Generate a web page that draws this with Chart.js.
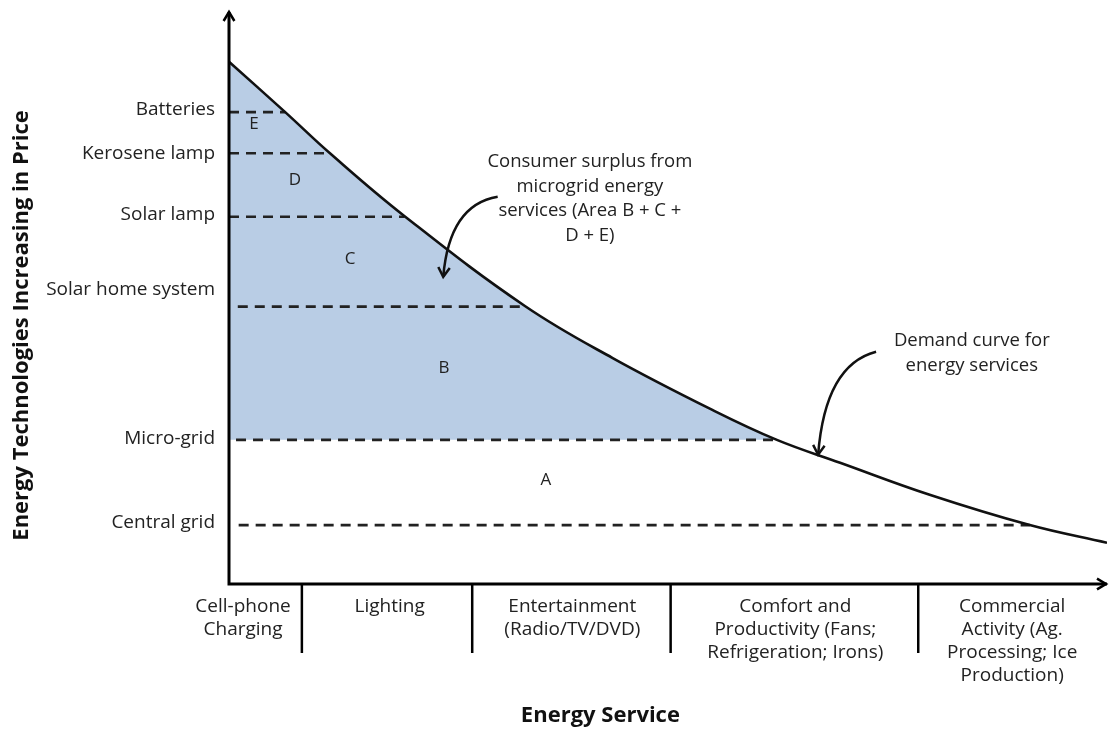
<!DOCTYPE html>
<html lang="en">
<head>
<meta charset="UTF-8">
<title>Demand curve for energy services</title>
<script src="https://cdn.jsdelivr.net/npm/chart.js"></script>
<style>
  html, body { margin: 0; padding: 0; background: #fff; }
  canvas { display: block; }
</style>
</head>
<body>
<canvas id="chart" width="1109" height="731"></canvas>
<script>
// demand curve (x = quantity of service, y = price)
const curveX = [0, 6.4, 11.5, 20.0, 33.7, 43.7, 55.1, 62.4, 69.6, 79.8, 91.2, 100];
const curveY = [91.3, 82.5, 75.3, 64.3, 48.6, 39.5, 30.4, 25.2, 21.2, 15.6, 10.3, 7.2];

// technologies and their price levels (dashed lines)
const techLabels = ['Batteries', 'Kerosene lamp', 'Solar lamp', 'Solar home system', 'Micro-grid', 'Central grid'];
const techPrices = [82.5, 75.3, 64.2, 48.5, 25.2, 10.3];
const dashStarts = [0, 0, 0, 1.0, 0.8, 1.1];
const dashEnds = [6.4, 11.5, 20.0, 33.7, 62.4, 91.2];
const techTickValues = [82.9, 75.3, 64.5, 51.4, 25.5, 10.8];

const microGridPrice = 25.2;

// energy services along the x axis
const serviceLabels = [
  ['Cell-phone', 'Charging'],
  ['Lighting'],
  ['Entertainment', '(Radio/TV/DVD)'],
  ['Comfort and', 'Productivity (Fans;', 'Refrigeration; Irons)'],
  ['Commercial', 'Activity (Ag.', 'Processing; Ice', 'Production)']
];
const serviceCenters = [1.6, 18.3, 39.1, 64.5, 89.2];
const serviceBounds = [8.3, 27.7, 50.3, 78.5];

// area letters
const areaLetters = ['E', 'D', 'C', 'B', 'A'];
const areaX = [2.85, 7.5, 13.8, 24.5, 36.1];
const areaY = [80.4, 70.6, 56.8, 37.8, 18.2];

// annotations
const notes = [
  { lines: ['Consumer surplus from', 'microgrid energy', 'services (Area B + C +', 'D + E)'], x: 41.1, y: 73.8,
    arrow: { from: [30.6, 67.7], ctrl: [25.1, 66.3], to: [24.4, 53.7] } },
  { lines: ['Demand curve for', 'energy services'], x: 84.6, y: 42.5,
    arrow: { from: [73.7, 40.6], ctrl: [67.9, 38.3], to: [67.1, 22.6] } }
];

const FONT = '"Open Sans", Lato, sans-serif';
const INK = '#222';

const curvePts = curveX.map((x, i) => ({ x, y: curveY[i] }));
const shadePts = curvePts.filter(p => p.x <= 62.4);

const datasets = [];
techPrices.forEach((p, i) => {
  datasets.push({
    data: [{ x: dashStarts[i], y: p }, { x: dashEnds[i], y: p }],
    borderColor: INK,
    borderWidth: 2.6,
    borderDash: [10, 7],
    pointRadius: 0,
    order: 1
  });
});
datasets.push({
  data: curvePts,
  borderColor: '#111',
  borderWidth: 2.6,
  tension: 0.4,
  pointRadius: 0,
  order: 0
});
datasets.push({
  data: shadePts,
  borderWidth: 0,
  borderColor: 'rgba(0,0,0,0)',
  backgroundColor: 'rgb(185,205,229)',
  fill: { value: microGridPrice },
  tension: 0.4,
  pointRadius: 0,
  order: 5
});

function chevron(ctx, x, y, dir, size) {
  ctx.beginPath();
  if (dir === 'up') {
    ctx.moveTo(x - size * 0.6, y + size); ctx.lineTo(x, y); ctx.lineTo(x + size * 0.6, y + size);
  } else if (dir === 'right') {
    ctx.moveTo(x - size, y - size * 0.6); ctx.lineTo(x, y); ctx.lineTo(x - size, y + size * 0.6);
  }
  ctx.stroke();
}

const decorations = {
  id: 'decorations',
  afterDatasetsDraw(chart) {
    const { ctx, chartArea: a, scales: { x, y } } = chart;
    ctx.save();
    ctx.strokeStyle = '#000';
    ctx.lineWidth = 3;
    // axes
    ctx.beginPath();
    ctx.moveTo(a.left, a.top); ctx.lineTo(a.left, a.bottom); ctx.lineTo(a.right, a.bottom);
    ctx.stroke();
    ctx.lineWidth = 2.5;
    chevron(ctx, a.left, a.top, 'up', 9);
    chevron(ctx, a.right - 1, a.bottom, 'right', 9);

    // category separators
    serviceBounds.forEach(b => {
      const px = x.getPixelForValue(b);
      ctx.beginPath(); ctx.moveTo(px, a.bottom); ctx.lineTo(px, a.bottom + 69); ctx.stroke();
    });

    // area letters
    ctx.fillStyle = INK;
    ctx.font = '17px ' + FONT;
    ctx.textAlign = 'center';
    ctx.textBaseline = 'middle';
    areaLetters.forEach((t, i) => ctx.fillText(t, x.getPixelForValue(areaX[i]), y.getPixelForValue(areaY[i])));

    // annotations with curved arrows
    ctx.font = '18.5px ' + FONT;
    notes.forEach(n => {
      const cx = x.getPixelForValue(n.x);
      const cy = y.getPixelForValue(n.y);
      n.lines.forEach((l, i) => ctx.fillText(l, cx, cy + i * 24.5));
      const f = [x.getPixelForValue(n.arrow.from[0]), y.getPixelForValue(n.arrow.from[1])];
      const c = [x.getPixelForValue(n.arrow.ctrl[0]), y.getPixelForValue(n.arrow.ctrl[1])];
      const t = [x.getPixelForValue(n.arrow.to[0]), y.getPixelForValue(n.arrow.to[1])];
      ctx.lineWidth = 2.5;
      ctx.strokeStyle = '#111';
      ctx.beginPath(); ctx.moveTo(f[0], f[1]); ctx.quadraticCurveTo(c[0], c[1], t[0], t[1]); ctx.stroke();
      const ang = Math.atan2(t[1] - c[1], t[0] - c[0]);
      const s = 11;
      ctx.beginPath();
      ctx.moveTo(t[0] - s * Math.cos(ang - 0.55), t[1] - s * Math.sin(ang - 0.55));
      ctx.lineTo(t[0], t[1]);
      ctx.lineTo(t[0] - s * Math.cos(ang + 0.55), t[1] - s * Math.sin(ang + 0.55));
      ctx.stroke();
    });

    // axis titles
    ctx.font = 'bold 22px ' + FONT;
    ctx.fillStyle = '#111';
    ctx.fillText('Energy Service', x.getPixelForValue(42.3), 716);
    ctx.translate(22, y.getPixelForValue(45.2));
    ctx.rotate(-Math.PI / 2);
    ctx.fillText('Energy Technologies Increasing in Price', 0, 0);
    ctx.restore();
  }
};

new Chart(document.getElementById('chart'), {
  type: 'line',
  data: { datasets },
  plugins: [decorations],
  options: {
    responsive: false,
    animation: false,
    layout: { padding: { top: 12, right: 2, left: 0, bottom: 0 } },
    plugins: { legend: { display: false }, tooltip: { enabled: false } },
    scales: {
      x: {
        type: 'linear', min: 0, max: 100,
        afterBuildTicks: s => { s.ticks = serviceCenters.map(v => ({ value: v })); },
        afterFit: s => { s.height = 147; s.paddingLeft = 0; s.paddingRight = 0; },
        grid: { display: false, drawTicks: false },
        border: { display: false },
        ticks: {
          autoSkip: false, maxRotation: 0, padding: 11,
          color: INK, font: { family: FONT, size: 19, lineHeight: 1.21 },
          callback: (v, i) => serviceLabels[i]
        }
      },
      y: {
        type: 'linear', min: 0, max: 100,
        afterBuildTicks: s => { s.ticks = techTickValues.map(v => ({ value: v })); },
        afterFit: s => { s.width = 229; s.paddingTop = 0; s.paddingBottom = 0; },
        grid: { display: false, drawTicks: false },
        border: { display: false },
        ticks: {
          autoSkip: false, padding: 14,
          color: INK, font: { family: FONT, size: 19 },
          callback: (v, i) => techLabels[i]
        }
      }
    }
  }
});
</script>
</body>
</html>
